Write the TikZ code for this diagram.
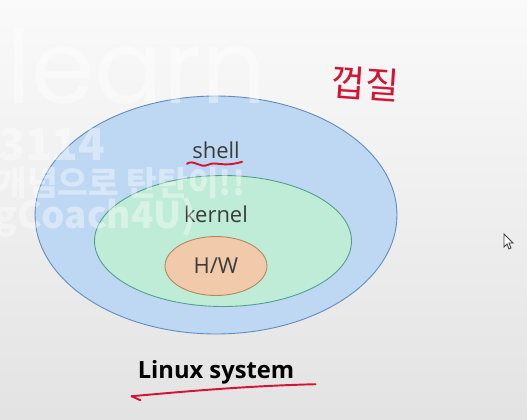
\documentclass[tikz,border=0pt]{standalone}
\usepackage{fontspec}
\setmainfont{Open Sans}
\newfontfamily\krfont{Noto Sans CJK KR}
\newfontfamily\markfont{Poppins}
\usepackage{xcolor}
\usetikzlibrary{positioning, shapes.geometric, calc}

\definecolor{shellfill}{RGB}{190,215,242}
\definecolor{shelldraw}{RGB}{95,140,190}
\definecolor{kernelfill}{RGB}{190,236,214}
\definecolor{kerneldraw}{RGB}{80,160,140}
\definecolor{hwfill}{RGB}{240,202,170}
\definecolor{hwdraw}{RGB}{180,135,90}
\definecolor{pen}{RGB}{212,20,50}
\definecolor{labeltext}{RGB}{60,60,60}

\begin{document}
\begin{tikzpicture}[x=0.02cm, y=-0.02cm,
    layer/.style={ellipse, draw, line width=0.5pt, inner sep=0pt},
    lbl/.style={text=labeltext, font=\fontsize{12.5}{14}\selectfont, inner sep=0pt},
    ink/.style={pen, line width=1.1pt, line cap=round, line join=round},
    wmtext/.style={white, opacity=0.4, inner sep=0pt, anchor=base west}]
    \useasboundingbox (0,0) rectangle (527,419);
    \clip (0,0) rectangle (527,419);
    \shade[top color=gray!4, bottom color=gray!22] (0,0) rectangle (527,419);

    % layers
    \node[layer, fill=shellfill, draw=shelldraw, minimum width=7.24cm, minimum height=4.76cm] (shell) at (216,215) {};
    \node[layer, fill=kernelfill, draw=kerneldraw, minimum width=5.14cm, minimum height=2.62cm] (kernel) at (223,241) {};
    \node[layer, fill=hwfill, draw=hwdraw, minimum width=2.04cm, minimum height=1.18cm] (hw) at (216,266) {};

    \node[lbl] (shelltxt) at (216,150) {shell};
    \node[lbl] (kerneltxt) at (216,214) {kernel};
    \node[lbl] (hwtxt) at (hw) {H/W};
    \node[font=\bfseries\fontsize{13.5}{16}\selectfont, inner sep=0pt] (linux) at (216,372) {Linux system};

    % handwriting
    \node[pen, font=\krfont\fontsize{21}{24}\selectfont, rotate=-4, inner sep=0pt] (note) at (365,84) {껍질};
    \draw[ink] ($(shelltxt.south west)+(-5,5)$) .. controls ($(shelltxt.south west)+(2,0)$) and ($(shelltxt.south west)+(8,10)$) .. ($(shelltxt.south)+(-8,6)$)
        .. controls ($(shelltxt.south)+(0,2)$) and ($(shelltxt.south)+(6,9)$) .. ($(shelltxt.south east)+(2,3)$);
    \draw[ink] ($(linux.south east)+(21,0)$) .. controls ($(linux.south)+(20,2)$) and ($(linux.south west)+(30,9)$) .. ($(linux.south west)+(-6,12)$) -- ($(linux.south west)+(3,16)$);

    % cursor
    \draw[fill=white, line width=0.5pt, draw=black!75] (504,234) -- (504,247) -- (507,244) -- (509,249) -- (511,248) -- (509,243) -- (513,243) -- cycle;

    % watermark
    \node[wmtext, font=\markfont\fontsize{58}{60}\selectfont] (wmlearn) at (6,103) {learn};
    \node[wmtext, font=\krfont\bfseries\fontsize{25}{28}\selectfont] (wmnum) at (-2,160) {3114};
    \node[wmtext, font=\krfont\bfseries\fontsize{19}{21}\selectfont] (wmkr) at (-4,195) {개념으로 탄탄이!!};
    \node[wmtext, font=\krfont\bfseries\fontsize{21}{24}\selectfont] (wmcoach) at (-6,228) {gCoach4U)};
\end{tikzpicture}
\end{document}
